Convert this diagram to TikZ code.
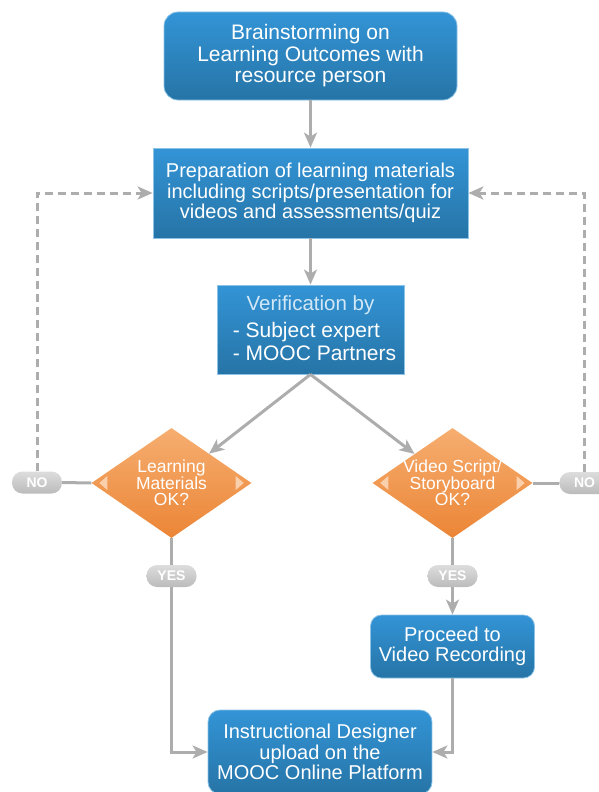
\documentclass[tikz,border=0pt]{standalone}
\usepackage{fontspec}
\setmainfont{Liberation Sans}
\usetikzlibrary{arrows.meta,shapes.geometric,calc}
\definecolor{bluetop}{HTML}{3394D6}
\definecolor{bluebot}{HTML}{2674A6}
\definecolor{blueedge}{HTML}{8CC2E6}
\definecolor{orgtop}{HTML}{F6AE70}
\definecolor{orgbot}{HTML}{EB8536}
\definecolor{orgmark}{HTML}{FAD0AC}
\definecolor{pilltop}{HTML}{DDDDDD}
\definecolor{pillbot}{HTML}{BBBBBB}
\definecolor{linegray}{HTML}{ADADAD}
\definecolor{lighttext}{HTML}{D2E8F7}
\begin{document}
\begin{tikzpicture}[x=1pt,y=-1pt,
  bluebox/.style={draw=blueedge, line width=0.8pt, top color=bluetop, bottom color=bluebot,
    text=white, align=center, inner sep=0pt},
  roundbox/.style={bluebox, rounded corners=#1},
  dia/.style={diamond, top color=orgtop, bottom color=orgbot,
    minimum width=160pt, minimum height=110pt, inner sep=0pt},
  diatext/.style={text=white, align=center, font=\fontsize{17.5}{16}\selectfont},
  diamark/.style={fill=orgmark},
  pill/.style={rounded corners=10.5pt, top color=pilltop, bottom color=pillbot,
    minimum width=50pt, minimum height=22pt, inner sep=0pt, text=white,
    font=\fontsize{14}{14}\selectfont\bfseries},
  conn/.style={draw=linegray, line width=3pt},
  arr/.style={conn, -{Stealth[length=15pt,width=13pt,inset=4pt]}},
  dasharr/.style={arr, dash pattern=on 8pt off 5pt},
]
\useasboundingbox (0,0) rectangle (599,792);
\clip (0,0) rectangle (599,792);

% process boxes
\node[roundbox=14pt, minimum width=293pt, minimum height=88pt,
  font=\fontsize{21}{21.5}\selectfont] (brain) at (310.5,56)
  {Brainstorming on\\Learning Outcomes with\\resource person};
\node[bluebox, minimum width=315pt, minimum height=90pt,
  font=\fontsize{20}{20.5}\selectfont] (prep) at (310.5,193)
  {Preparation of learning materials\\including scripts/presentation for\\videos and assessments/quiz};
\node[bluebox, minimum width=187pt, minimum height=89pt] (verif) at (310.5,329.5) {};
\node[text=lighttext, font=\fontsize{20.5}{22}\selectfont] (veriftitle)
  at ($(verif.north)+(0,21)$) {Verification by};
\node[text=white, anchor=west, align=left, inner sep=0pt,
  font=\fontsize{21}{23}\selectfont] (veriflist) at ($(verif.west)+(16,12)$)
  {- Subject expert\\- MOOC Partners};

% decisions
\node[dia] (ldia) at (171.5,483) {};
\node[dia] (rdia) at (452.5,483) {};
\foreach \d in {ldia,rdia}{
  \fill[diamark] ($(\d.west)+(8,0)$) -- ($(\d.west)+(16,-7)$) -- ($(\d.west)+(16,7)$) -- cycle;
  \fill[diamark] ($(\d.east)+(-8,0)$) -- ($(\d.east)+(-16,-7)$) -- ($(\d.east)+(-16,7)$) -- cycle;
}
\node[diatext] (ltext) at (ldia) {Learning\\Materials\\OK?};
\node[diatext] (rtext) at (rdia) {Video Script/\\Storyboard\\OK?};

% yes / no tags
\node[pill] (nol) at (37,482.5) {NO};
\node[pill] (nor) at (584.5,483) {NO};
\node[pill] (yesl) at (171.5,576) {YES};
\node[pill] (yesr) at (452.5,576) {YES};

\node[roundbox=11pt, minimum width=164pt, minimum height=63pt,
  font=\fontsize{20}{20.5}\selectfont] (proceed) at (452.5,646.5)
  {Proceed to\\Video Recording};
\node[roundbox=12pt, minimum width=224pt, minimum height=84pt,
  font=\fontsize{20}{20.5}\selectfont] (upload) at (320,752)
  {Instructional Designer\\upload on the\\MOOC Online Platform};

% connectors
\draw[arr] (brain.south) -- (prep.north);
\draw[arr] (prep.south) -- (verif.north);
\draw[arr] (verif.south) -- (ldia);
\draw[arr] (verif.south) -- (rdia);
\draw[conn] (ldia.west) -- (nol.east);
\draw[conn] (rdia.east) -- (nor.west);
\draw[dasharr] (nol.north) |- (prep.west);
\draw[dasharr] (nor.north) |- (prep.east);
\draw[conn] (ldia.south) -- (yesl.north);
\draw[conn] (rdia.south) -- (yesr.north);
\draw[arr] (yesl.south) |- (upload.west);
\draw[arr] (yesr.south) -- (proceed.north);
\draw[arr] (proceed.south) |- (upload.east);
\end{tikzpicture}
\end{document}
